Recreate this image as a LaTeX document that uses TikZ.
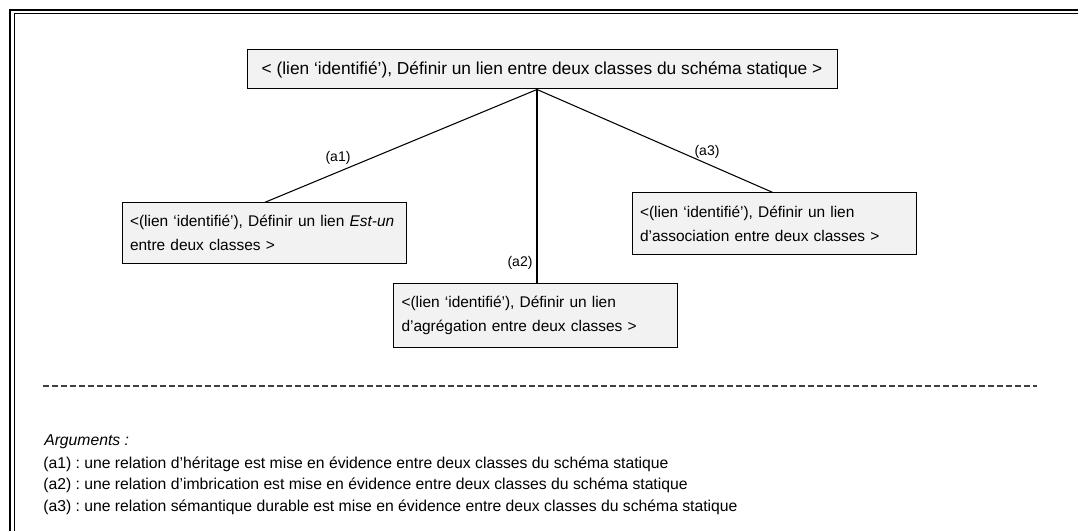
\documentclass[tikz,border=0pt]{standalone}
\usepackage{fontspec}
\setmainfont{Liberation Sans}
\usetikzlibrary{calc}
\definecolor{boxgray}{HTML}{F2F2F2}
\definecolor{dashgray}{HTML}{404040}
\begin{document}
\begin{tikzpicture}[x=0.75pt,y=-0.75pt,
  goalbox/.style={draw=black, line width=0.75pt, fill=boxgray, rectangle,
    inner xsep=6pt, inner ysep=0pt, align=left, font=\fontsize{11.6}{18}\selectfont},
  subgoal/.style={goalbox, minimum width=213pt, text width=201pt},
  link/.style={draw=black, line width=0.8pt},
  linklabel/.style={font=\fontsize{10.5}{12}\selectfont, inner sep=0pt},
  argtext/.style={anchor=west, inner sep=0pt, font=\fontsize{11.8}{14}\selectfont}]
\useasboundingbox (0,0) rectangle (1078,531);

% double frame, running off the right and bottom edges
\draw[line width=1.5pt] (10,560) -- (10,10) -- (1100,10);
\draw[line width=0.75pt] (14,560) -- (14,14) -- (1100,14);

% goal and sub-goals
\node[goalbox, minimum width=442.5pt, minimum height=29.25pt,
      font=\fontsize{13}{15}\selectfont] (top) at (542,69.5)
  {< (lien ‘identifié’), Définir un lien entre deux classes du schéma statique >};
\node[subgoal, minimum height=45pt] (isa) at (264,233)
  {<(lien ‘identifié’), Définir un lien \textit{Est-un}\\ entre deux classes >};
\node[subgoal, minimum height=46pt] (assoc) at (774,223.5)
  {<(lien ‘identifié’), Définir un lien\\ d’association entre deux classes >};
\node[subgoal, minimum height=48pt] (aggr) at (535.5,315)
  {<(lien ‘identifié’), Définir un lien\\ d’agrégation entre deux classes >};

% decomposition links
\coordinate (apex) at ($(top.south)+(-5,0)$);
\draw[link] (apex) -- ($(isa.north west)+(143,0)$);
\draw[link] (apex) -- (apex |- aggr.north);
\draw[link] (apex) -- ($(assoc.north west)+(141,0)$);

\node[linklabel] (la1) at (338,158) {(a1)};
\node[linklabel] (la2) at (520,263) {(a2)};
\node[linklabel] (la3) at (707,152) {(a3)};

% separator
\draw[dashgray, line width=0.9pt, dash pattern=on 4.5pt off 2.25pt] (43,386) coordinate (sepL) -- (1037,386) coordinate (sepR);

% arguments
\node[argtext] (args) at (44,442) {\textit{Arguments :}};
\node[argtext] (k1) at (43,464) {(a1) :};
\node[argtext] (t1) at (84,464) {une relation d’héritage est mise en évidence entre deux classes du schéma statique};
\node[argtext] (k2) at (43,485) {(a2) :};
\node[argtext] (t2) at (84,485) {une relation d’imbrication est mise en évidence entre deux classes du schéma statique};
\node[argtext] (k3) at (43,507) {(a3) :};
\node[argtext] (t3) at (84,507) {une relation sémantique durable est mise en évidence entre deux classes du schéma statique};
\end{tikzpicture}
\end{document}
